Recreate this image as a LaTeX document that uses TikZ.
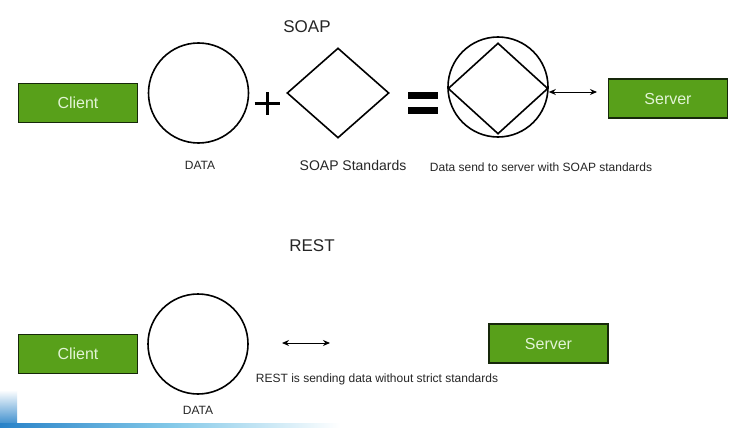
\documentclass[tikz,border=0pt]{standalone}
\usepackage{fontspec}
\setmainfont{Liberation Sans}
\usetikzlibrary{shapes.geometric,arrows.meta}
\definecolor{boxgreen}{RGB}{88,160,26}
\definecolor{boxedge}{RGB}{22,40,10}
\definecolor{boxtext}{RGB}{226,244,214}
\definecolor{swooshblue}{RGB}{40,130,200}
\definecolor{swooshlight}{RGB}{130,200,232}
\begin{document}
\begin{tikzpicture}[x=1pt,y=-1pt,
  greenbox/.style={draw=boxedge,line width=1.8pt,fill=boxgreen,text=boxtext,
    minimum width=119pt,minimum height=39pt,inner sep=0pt,font=\fontsize{16}{18}\selectfont},
  datacircle/.style={circle,draw=black,line width=1.6pt,minimum size=100pt,inner sep=0pt},
  stddiamond/.style={diamond,draw=black,line width=1.6pt,inner sep=0pt},
  title/.style={font=\fontsize{17}{19}\selectfont,text=black!85},
  caption/.style={font=\fontsize{12}{14}\selectfont,text=black!85},
  smallcap/.style={font=\fontsize{12}{14}\selectfont,text=black!85},
  dblarrow/.style={{Stealth[length=7pt,width=6pt]}-{Stealth[length=7pt,width=6pt]},line width=1pt}]
\useasboundingbox (0,0) rectangle (755,428);
\fill[white] (0,0) rectangle (755,428);
% decorative swoosh
\shade[top color=white,bottom color=swooshblue] (0,390) rectangle (17,428);
\shade[left color=swooshblue,right color=white,middle color=swooshlight] (0,423) rectangle (340,428);
% SOAP part
\node[title] (soaptitle) at (307,27) {SOAP};
\node[greenbox] (client1) at (78,103) {Client};
\node[datacircle] (data1) at (198.5,93) {};
\node[smallcap] (data1lbl) at (200,165) {DATA};
\coordinate (plus) at (267,103);
\draw[line width=3pt] ([xshift=-12.5pt]plus) -- ([xshift=12.5pt]plus);
\draw[line width=3pt] ([yshift=-11.5pt]plus) -- ([yshift=11.5pt]plus);
\node[stddiamond,minimum width=102pt,minimum height=90pt] (std) at (338,93) {};
\node[caption,font=\fontsize{14}{16}\selectfont] (stdlbl) at (353,165) {SOAP Standards};
\fill (408,92) rectangle (438,99);
\fill (408,107) rectangle (438,114);
\node[datacircle,minimum size=100pt] (combo) at (498,87) {};
\node[stddiamond,minimum width=100pt,minimum height=91pt] (combod) at (498,88.5) {};
\node[caption] (combolbl) at (541,167) {Data send to server with SOAP standards};
\node[greenbox] (server1) at (668,98.5) {Server};
\coordinate (arrend1) at (597,92);
\draw[dblarrow] (combod.east |- arrend1) -- (arrend1);
% REST part
\node[title] (resttitle) at (312,246) {REST};
\node[greenbox] (client2) at (78,354) {Client};
\node[datacircle] (data2) at (198,344) {};
\node[smallcap] (data2lbl) at (198,410) {DATA};
\coordinate (arrstart2) at (282,343);
\coordinate (arrend2) at (330,343);
\draw[dblarrow] (arrstart2) -- (arrend2);
\node[caption] (restlbl) at (377,379) {REST is sending data without strict standards};
\node[greenbox] (server2) at (548.5,343.5) {Server};
\end{tikzpicture}
\end{document}
